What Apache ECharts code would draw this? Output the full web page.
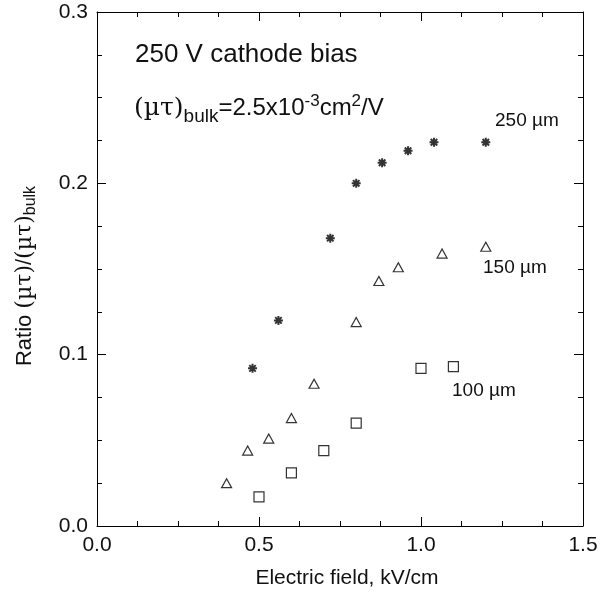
<!DOCTYPE html>
<html>
<head>
<meta charset="utf-8">
<script src="https://cdn.jsdelivr.net/npm/echarts@6/dist/echarts.min.js"></script>
<style>
  html, body { margin: 0; padding: 0; background: #fff; }
  #chart { width: 606px; height: 594px; }
</style>
</head>
<body>
<div id="chart"></div>
<script>
// 250 um (asterisks)
const field250 = [0.48, 0.56, 0.72, 0.80, 0.88, 0.96, 1.04, 1.20]
const ratio250 = [0.092, 0.120, 0.168, 0.200, 0.212, 0.219, 0.224, 0.224]
// 150 um (triangles)
const field150 = [0.40, 0.465, 0.53, 0.60, 0.67, 0.80, 0.87, 0.93, 1.065, 1.20]
const ratio150 = [0.025, 0.044, 0.051, 0.063, 0.083, 0.119, 0.143, 0.151, 0.159, 0.163]
// 100 um (squares)
const field100 = [0.50, 0.60, 0.70, 0.80, 1.00, 1.10]
const ratio100 = [0.017, 0.031, 0.044, 0.060, 0.092, 0.093]

const xTicks = [0, 1.5, 0.5]   // min, max, interval
const yTicks = [0, 0.3, 0.1]

const font = 'Liberation Sans, Arial, sans-serif'
const serif = 'DejaVu Serif, Liberation Serif, serif'
// asterisk marker, 8 arms
const star = 'path://M0,-5L0,5M-5,0L5,0M-3.6,-3.6L3.6,3.6M-3.6,3.6L3.6,-3.6'

function pairs (xs, ys) {
  return xs.map((x, i) => [x, ys[i]])
}

function axisBase (pos, isX, showLabel) {
  let t = isX ? xTicks : yTicks
  return {
    type: 'value',
    position: pos,
    min: t[0],
    max: t[1],
    interval: t[2],
    axisLine: { show: true, onZero: false, lineStyle: { color: '#000', width: 1 } },
    axisTick: { show: true, inside: true, length: 9, lineStyle: { color: '#000' } },
    minorTick: { show: true, splitNumber: 4, length: 5, lineStyle: { color: '#000' } },
    splitLine: { show: false },
    axisLabel: {
      show: showLabel,
      color: '#111',
      fontSize: 21,
      fontFamily: font,
      margin: 9,
      formatter: v => v.toFixed(1)
    }
  }
}

let chart = echarts.init(document.getElementById('chart'))

let xMain = axisBase('bottom', true, true)
xMain.name = 'Electric field, kV/cm'
xMain.nameLocation = 'middle'
xMain.nameGap = 42
xMain.nameTextStyle = { color: '#111', fontSize: 21, fontFamily: font, padding: [0, 0, 0, 14] }

let yMain = axisBase('left', false, true)
yMain.name = 'Ratio {g|(µτ)}/{g|(µτ)}{sub|bulk}'
yMain.nameLocation = 'middle'
yMain.nameGap = 58
yMain.nameTextStyle = {
  color: '#111',
  fontSize: 22,
  fontFamily: font,
  padding: [0, 0, 0, -14],
  rich: {
    g: { fontSize: 22, fontFamily: serif, color: '#111' },
    sub: { fontSize: 16, fontFamily: font, color: '#111', padding: [12, 0, 0, 0] }
  }
}

let xTop = axisBase('top', true, false)
let yRight = axisBase('right', false, false)

const markStyle = { color: '#fff', borderColor: '#000', borderWidth: 1.2 }

chart.setOption({
  animation: false,
  backgroundColor: '#fff',
  grid: { left: 97, right: 23, top: 12, bottom: 68 },
  xAxis: [xMain, xTop],
  yAxis: [yMain, yRight],
  graphic: [
    {
      type: 'text', left: 135, top: 42,
      style: { text: '250 V cathode bias', fill: '#111', fontSize: 26, fontFamily: font }
    },
    {
      type: 'text', left: 134, top: 93,
      style: {
        text: '{g|(µτ)}{sub|bulk}=2.5x10{sup|-3}cm{sup|2}/V',
        fill: '#111', fontSize: 24, fontFamily: font,
        rich: {
          g: { fontSize: 25, fontFamily: serif, fill: '#111' },
          sub: { fontSize: 19, fontFamily: font, fill: '#111', padding: [16, 0, 0, 0] },
          sup: { fontSize: 17, fontFamily: font, fill: '#111', padding: [0, 0, 14, 0] }
        }
      }
    },
    { type: 'text', left: 495, top: 111, style: { text: '250 µm', fill: '#111', fontSize: 19, fontFamily: font } },
    { type: 'text', left: 483, top: 258, style: { text: '150 µm', fill: '#111', fontSize: 19, fontFamily: font } },
    { type: 'text', left: 452, top: 381, style: { text: '100 µm', fill: '#111', fontSize: 19, fontFamily: font } }
  ],
  series: [
    {
      name: '250 µm',
      type: 'scatter',
      symbol: star,
      symbolSize: 9,
      itemStyle: { color: 'none', borderColor: '#000', borderWidth: 2 },
      data: pairs(field250, ratio250)
    },
    {
      name: '150 µm',
      type: 'scatter',
      symbol: 'triangle',
      symbolSize: [10, 9],
      itemStyle: markStyle,
      data: pairs(field150, ratio150)
    },
    {
      name: '100 µm',
      type: 'scatter',
      symbol: 'rect',
      symbolSize: 10,
      itemStyle: markStyle,
      data: pairs(field100, ratio100)
    }
  ]
})
</script>
</body>
</html>
